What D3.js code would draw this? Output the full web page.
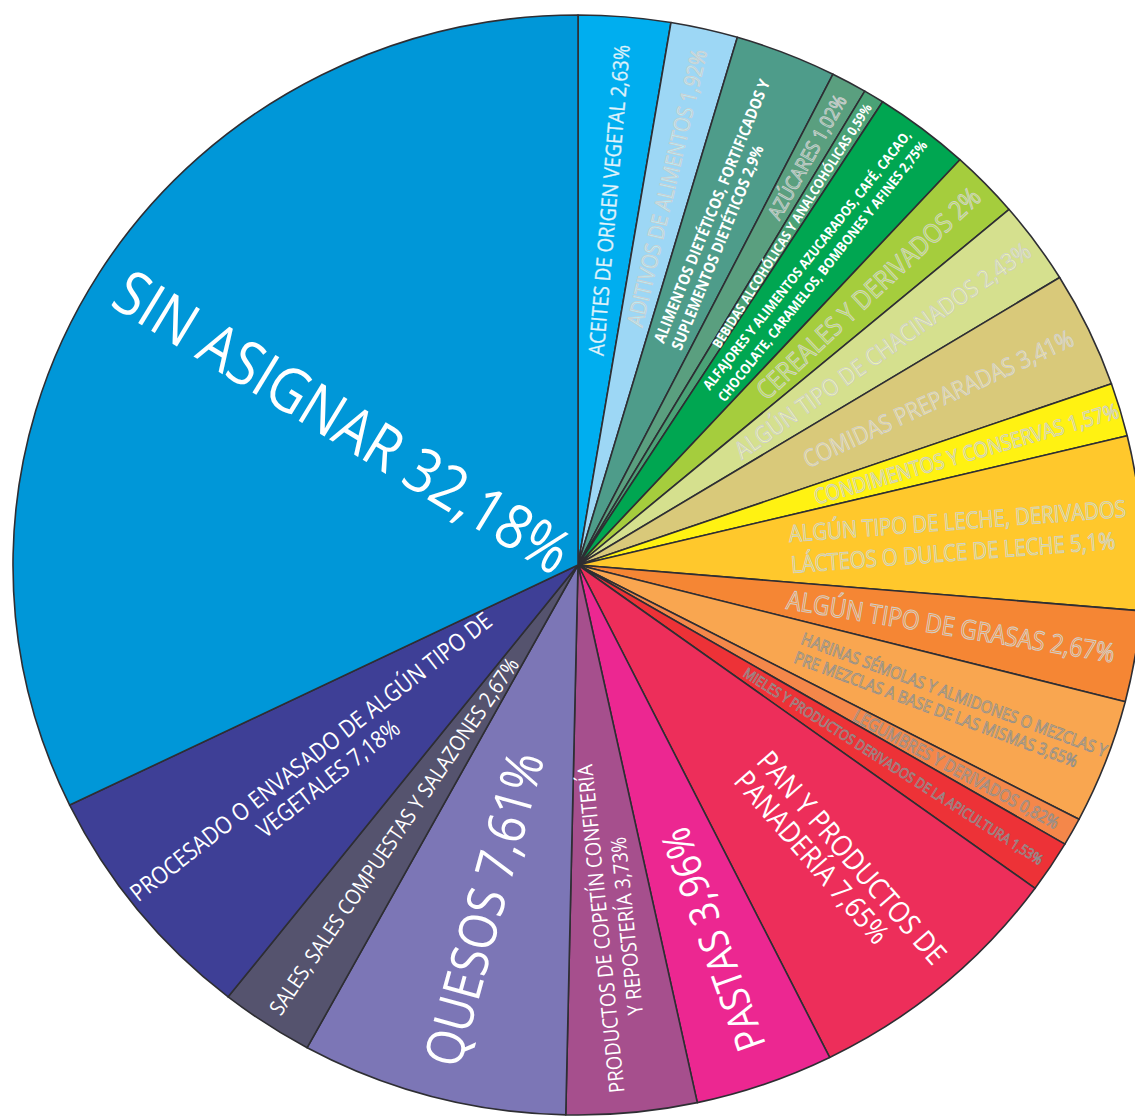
<!DOCTYPE html>
<html><head><meta charset="utf-8">
<script src="https://cdn.jsdelivr.net/npm/d3@7"></script>
<style>html,body{margin:0;padding:0;background:#fff;overflow:hidden}</style>
</head><body>
<svg id="chart" width="1135" height="1117"></svg>
<script>
// ---- data ----
const categories = [
  "ACEITES DE ORIGEN VEGETAL 2,63%",
  "ADITIVOS DE ALIMENTOS 1,92%",
  "ALIMENTOS DIETÉTICOS, FORTIFICADOS Y\nSUPLEMENTOS DIETÉTICOS 2,9%",
  "AZÚCARES 1,02%",
  "BEBIDAS ALCOHÓLICAS Y ANALCOHÓLICAS 0,59%",
  "ALFAJORES Y ALIMENTOS AZUCARADOS, CAFÉ, CACAO,\nCHOCOLATE, CARAMELOS, BOMBONES Y AFINES 2,75%",
  "CEREALES Y DERIVADOS 2%",
  "ALGÚN TIPO DE CHACINADOS 2,43%",
  "COMIDAS PREPARADAS 3,41%",
  "CONDIMENTOS Y CONSERVAS 1,57%",
  "ALGÚN TIPO DE LECHE, DERIVADOS\nLÁCTEOS O DULCE DE LECHE 5,1%",
  "ALGÚN TIPO DE GRASAS 2,67%",
  "HARINAS SÉMOLAS Y ALMIDONES O MEZCLAS Y\nPRE MEZCLAS A BASE DE LAS MISMAS 3,65%",
  "LEGUMBRES Y DERIVADOS 0,82%",
  "MIELES Y PRODUCTOS DERIVADOS DE LA APICULTURA 1,53%",
  "PAN Y PRODUCTOS DE\nPANADERÍA 7,65%",
  "PASTAS 3,96%",
  "PRODUCTOS DE COPETÍN CONFITERÍA\nY REPOSTERÍA 3,73%",
  "QUESOS 7,61%",
  "SALES, SALES COMPUESTAS Y SALAZONES 2,67%",
  "PROCESADO O ENVASADO DE ALGÚN TIPO DE\nVEGETALES 7,18%",
  "SIN ASIGNAR 32,18%"
];
const values = [2.63,1.92,2.9,1.02,0.59,2.75,2,2.43,3.41,1.57,5.1,2.67,3.65,0.82,1.53,7.65,3.96,3.73,7.61,2.67,7.18,32.18];
const colors = ["#00AEEF","#9DD7F5","#4E9C8A","#5A9F7F","#4AA276","#00A651","#A5CD3D","#D5E08E","#D9C97A","#FFF212",
  "#FFC82C","#F58634","#F9A650","#F4874A","#ED3237","#ED2E5A","#EC2791","#A64F8D","#7C76B6","#55536E","#3E3F96","#0097D8"];

// ---- label layout (positions / styles) ----
const layout = [
  {r:366,len:312,s:"light",dir:"out"},
  {r:387,len:284,s:"outline",dir:"out"},
  {r:236,len:283,gap:19,a:"start",s:"bold",dir:"out"},
  {r:465,len:139,s:"outline",dir:"out"},
  {r:398,len:286,s:"bold",dir:"out"},
  {r:216,len:328,gap:19,a:"start",s:"bold",dir:"out"},
  {r:392,len:296,s:"outline",dir:"out"},
  {r:366,len:356,s:"outline",dir:"out"},
  {r:388,len:295,s:"outline",dir:"out"},
  {r:394,len:316,s:"outline",dir:"out"},
  {r:207,len:338,gap:31,a:"start",s:"outline",dir:"out"},
  {r:368,len:332,s:"outline",dir:"out"},
  {r:230,len:325,gap:20,a:"start",s:"outlineDark",dir:"out"},
  {r:421,len:231,s:"outlineDark",dir:"out"},
  {r:367,len:352,s:"outlineDark",dir:"out"},
  {r:262,len:271,gap:30,a:"start",s:"white",dir:"out"},
  {r:397,len:234,s:"white",dir:"in"},
  {r:364,len:330,gap:26,s:"white",dir:"in"},
  {r:356,len:323,s:"white",dir:"in"},
  {r:325,len:426,s:"white",dir:"in"},
  {r:323,len:452,gap:28,s:"white",dir:"in"},
  {r:270,len:522,s:"white",dir:"in"}
];
const condense = 1.14;

const cx = 578, cy = 565, ry = 550, rx = 565, sx = rx / ry;
const svg = d3.select("#chart");
const data = categories.map((c, i) => ({name: c, value: values[i], color: colors[i], i}));

const pie = d3.pie().value(d => d.value).sort(null).startAngle(0).endAngle(2 * Math.PI);
const arcs = pie(data);
const arc = d3.arc().innerRadius(0).outerRadius(ry);

const gPie = svg.append("g").attr("transform", `translate(${cx},${cy}) scale(${sx},1)`);
gPie.selectAll("path").data(arcs).join("path")
  .attr("d", arc)
  .attr("fill", d => d.data.color)
  .attr("stroke", "#2e2e33")
  .attr("stroke-width", 1.6)
  .attr("stroke-linejoin", "round")
  .attr("vector-effect", "non-scaling-stroke");

const gLab = svg.append("g");
arcs.forEach(d => {
  const L = layout[d.data.i];
  const a = (d.startAngle + d.endAngle) / 2;
  const ux = sx * Math.sin(a), uy = -Math.cos(a);
  const px = cx + L.r * ux, py = cy + L.r * uy;
  let rot = Math.atan2(uy, ux) * 180 / Math.PI;
  if (L.dir === "in") rot += 180;
  const lines = d.data.name.split("\n");
  const g = gLab.append("g")
    .attr("transform", `translate(${px},${py}) rotate(${rot}) scale(${1 / condense},1)`);
  const anchor = L.a || "middle";
  const weight = L.s === "bold" ? 700 : 400;
  const txt = g.selectAll("text").data(lines).join("text")
    .attr("text-anchor", anchor)
    .attr("font-family", "'Open Sans', 'Noto Sans', sans-serif")
    .attr("font-weight", weight)
    .attr("font-size", 100)
    .text(t => t);
  let maxLen = 0;
  txt.each(function(){ maxLen = Math.max(maxLen, this.getComputedTextLength()); });
  const fs = condense * 100 * L.len / maxLen;
  const gap = L.gap || fs * 1.2;
  const n = lines.length;
  txt.attr("font-size", fs)
    .attr("x", 0)
    .attr("y", (t, k) => (k - (n - 1) / 2) * gap)
    .attr("dy", "0.36em");
  if (L.s === "white" || L.s === "bold") {
    txt.attr("fill", "#ffffff");
  } else if (L.s === "light") {
    txt.attr("fill", "#e6f6fd").attr("stroke", "#bfe6f7").attr("stroke-width", 0.4);
  } else if (L.s === "outline") {
    txt.attr("fill", d3.color(d.data.color).brighter(0.35)).attr("stroke", "#cfcfcf").attr("stroke-width", 0.9);
  } else {
    txt.attr("fill", d3.color(d.data.color).brighter(0.3)).attr("stroke", "#8e8e8e").attr("stroke-width", 0.8);
  }
});
</script>
</body></html>
